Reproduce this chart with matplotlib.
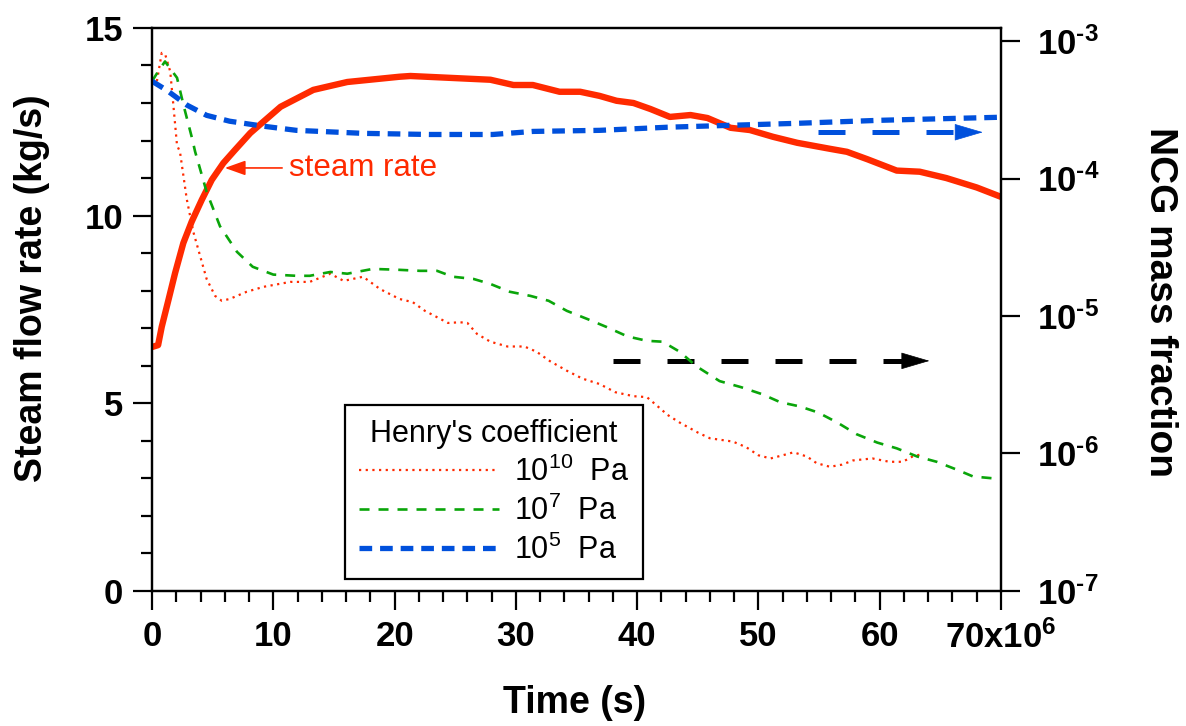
import numpy as np
import matplotlib
matplotlib.use("Agg")
import matplotlib.pyplot as plt
from matplotlib.ticker import MultipleLocator, NullLocator

plt.rcParams['font.family'] = ['Liberation Sans', 'DejaVu Sans']
plt.rcParams['mathtext.fontset'] = 'custom'
plt.rcParams['mathtext.rm'] = 'Liberation Sans'
plt.rcParams['mathtext.it'] = 'Liberation Sans:italic'
plt.rcParams['mathtext.bf'] = 'Liberation Sans:bold'

# time in units of 10^6 s
steam_t = [0, 0.5, 0.8, 1.35, 1.9, 2.58, 3.27, 4.1, 4.92, 5.88, 6.84, 8.1,
           10.6, 13.3, 16.1, 20.4, 21.3, 24.6, 27.9, 29.8, 31.4, 33.6, 35.3,
           36.9, 38.3, 39.7, 41.1, 42.7, 44.4, 45.8, 47.7, 49.3, 51.2, 53.2,
           55.9, 57.3, 59.0, 61.4, 63.3, 65.5, 68.0, 70]
steam_rate = [6.5, 6.55, 7.04, 7.75, 8.47, 9.27, 9.84, 10.42, 10.95, 11.4,
              11.75, 12.2, 12.9, 13.35, 13.56, 13.70, 13.72, 13.67, 13.62,
              13.48, 13.48, 13.30, 13.30, 13.19, 13.06, 13.0, 12.84, 12.63,
              12.68, 12.6, 12.34, 12.28, 12.1, 11.94, 11.78, 11.7, 11.5, 11.2,
              11.17, 11.0, 10.75, 10.5]

# NCG mass fraction, Henry's coefficient 1e10 Pa
h10_t = [0.4, 0.8, 1.1, 1.5, 1.76, 2.06, 2.3, 2.86, 3.4, 3.96, 4.5, 5.2, 5.75,
         6.4, 7.8, 9.2, 11.4, 13.0, 14.7, 15.8, 17.4, 18.8, 20.4, 21.5, 22.5,
         23.5, 24.4, 25.4, 26.0, 26.8, 27.9, 29.3, 30.7, 31.7, 32.8, 34.2,
         35.5, 36.9, 38.2, 39.7, 40.8, 41.6, 42.5, 43.5, 45.0, 46.0, 47.9,
         49.0, 50.0, 51.0, 52.0, 52.9, 54.0, 54.8, 55.9, 56.9, 57.8, 59.4,
         60.8, 61.9, 62.7, 63.3]
h10_frac = [5.1e-4, 8.2e-4, 7.9e-4, 6.0e-4, 3.4e-4, 1.74e-4, 1.57e-4, 7.1e-5,
            4.1e-5, 2.74e-5, 1.86e-5, 1.40e-5, 1.29e-5, 1.33e-5, 1.50e-5,
            1.63e-5, 1.77e-5, 1.77e-5, 2.03e-5, 1.80e-5, 1.93e-5, 1.57e-5,
            1.33e-5, 1.26e-5, 1.09e-5, 9.8e-6, 8.9e-6, 9.0e-6, 8.9e-6, 7.4e-6,
            6.5e-6, 6.0e-6, 6.0e-6, 5.5e-6, 4.7e-6, 4.0e-6, 3.5e-6, 3.2e-6,
            2.79e-6, 2.61e-6, 2.57e-6, 2.24e-6, 1.91e-6, 1.68e-6, 1.42e-6,
            1.29e-6, 1.22e-6, 1.11e-6, 9.7e-7, 9.2e-7, 9.7e-7, 1.02e-6, 9.5e-7,
            8.5e-7, 8.0e-7, 8.3e-7, 8.9e-7, 9.2e-7, 8.7e-7, 8.7e-7, 9.5e-7,
            9.8e-7]

# Henry's coefficient 1e7 Pa
h7_t = [0, 0.5, 1.07, 2.06, 2.6, 3.3, 3.55, 4.5, 5.6, 7.0, 8.3, 10.0, 11.9,
        13.0, 14.7, 16.1, 18.2, 20.2, 22.1, 23.5, 24.8, 26.5, 27.9, 29.5, 31.2,
        32.7, 34.2, 35.9, 37.5, 39.2, 40.8, 42.1, 43.5, 44.9, 46.8, 48.6, 50.3,
        51.8, 53.4, 54.9, 56.5, 58.1, 59.8, 61.4, 63.1, 64.7, 66.4, 67.7,
        69.3, 70]
h7_frac = [5.1e-4, 6.0e-4, 7.1e-4, 5.4e-4, 3.4e-4, 1.96e-4, 1.57e-4, 8.0e-5,
           4.5e-5, 2.93e-5, 2.28e-5, 2.0e-5, 1.96e-5, 1.96e-5, 2.09e-5,
           2.03e-5, 2.2e-5, 2.17e-5, 2.13e-5, 2.13e-5, 1.93e-5, 1.86e-5,
           1.71e-5, 1.50e-5, 1.40e-5, 1.29e-5, 1.09e-5, 9.5e-6, 8.3e-6, 7.1e-6,
           6.6e-6, 6.5e-6, 5.5e-6, 4.3e-6, 3.36e-6, 3.03e-6, 2.70e-6, 2.36e-6,
           2.20e-6, 1.99e-6, 1.68e-6, 1.38e-6, 1.20e-6, 1.09e-6, 9.5e-7, 8.7e-7,
           7.6e-7, 6.8e-7, 6.6e-7, 6.6e-7]

# Henry's coefficient 1e5 Pa
h5_t = [0, 1.2, 2.9, 4.5, 6.4, 9.2, 11.9, 17.4, 22.9, 28.1, 31.4, 36.9, 42.5,
        47.9, 53.2, 60.0, 65.0, 70]
h5_frac = [5.1e-4, 4.39e-4, 3.41e-4, 2.88e-4, 2.61e-4, 2.40e-4, 2.24e-4,
           2.13e-4, 2.09e-4, 2.09e-4, 2.20e-4, 2.24e-4, 2.36e-4, 2.44e-4,
           2.52e-4, 2.65e-4, 2.72e-4, 2.79e-4]

x_ticks = [0, 10, 20, 30, 40, 50, 60, 70]
x_labels = ['0', '10', '20', '30', '40', '50', '60', r'70x10$^{\mathbf{6}}$']
left_ticks = [0, 5, 10, 15]
right_ticks = [1e-7, 1e-6, 1e-5, 1e-4, 1e-3]
right_labels = ['$\\mathbf{10^{\u2010%d}}$' % k for k in (7, 6, 5, 4, 3)]

RED = '#ff2a00'
GREEN = '#0aa50a'
BLUE = '#0050dc'

fig = plt.figure(figsize=(11.86, 7.26), dpi=100)
ax = fig.add_axes([0.1282, 0.186, 0.7158, 0.7755])
ax2 = ax.twinx()

ax.plot(steam_t, steam_rate, color=RED, lw=4.6, solid_joinstyle='round')

l10, = ax2.plot(h10_t, h10_frac, color=RED, lw=1.6, dashes=(1, 2.0))
l7, = ax2.plot(h7_t, h7_frac, color=GREEN, lw=1.9, dashes=(3.8, 3.4))
l5, = ax2.plot(h5_t, h5_frac, color=BLUE, lw=3.8, dashes=(2.4, 1.5))


def dashed_arrow(axis, x0, x1, y, color, head=2.1):
    # dashed shaft plus a solid triangular head
    axis.plot([x0, x1 - head], [y, y], color=color, lw=3.6, dashes=(5.4, 5.4))
    axis.annotate('', xy=(x1, y), xytext=(x1 - head, y),
                  arrowprops=dict(arrowstyle='-|>,head_length=0.95,head_width=0.28',
                                  color=color, lw=0.5, shrinkA=0, shrinkB=0,
                                  mutation_scale=20))


dashed_arrow(ax, 38.0, 64.1, 6.13, 'black')
dashed_arrow(ax2, 54.9, 68.5, 2.17e-4, BLUE)

ax.annotate('steam rate', xy=(6.0, 11.27), xytext=(11.3, 11.27),
            color=RED, fontsize=22.5, va='center', ha='left',
            arrowprops=dict(arrowstyle='-|>,head_length=0.7,head_width=0.25',
                            color=RED, lw=1.2, shrinkA=3, shrinkB=0,
                            mutation_scale=18))

ax.set_xlim(0, 70)
ax.set_ylim(0, 15)
ax2.set_yscale('log')
ax2.set_ylim(1e-7, 10 ** -2.905)

ax.set_xticks(x_ticks, labels=x_labels, fontsize=25, fontweight='bold')
ax.set_yticks(left_ticks, labels=[str(v) for v in left_ticks], fontsize=25,
              fontweight='bold')
ax.xaxis.set_minor_locator(MultipleLocator(2))
ax.yaxis.set_minor_locator(MultipleLocator(1))
ax2.set_yticks(right_ticks, labels=right_labels, fontsize=25)
ax2.yaxis.set_minor_locator(NullLocator())

for a in (ax, ax2):
    a.tick_params(which='major', direction='out', length=14, width=1.6, pad=7)
    a.tick_params(which='minor', direction='out', length=8, width=1.6)
    for s in a.spines.values():
        s.set_linewidth(1.6)
ax2.tick_params(which='major', pad=12)

ax.set_xlabel('Time (s)', fontsize=27, fontweight='bold', va='center')
ax.xaxis.set_label_coords(0.498, -0.199)
ax.set_ylabel('Steam flow rate (kg/s)', fontsize=27, fontweight='bold', va='center')
ax.yaxis.set_label_coords(-0.141, 0.538)
ax2.set_ylabel('NCG mass fraction', fontsize=28, fontweight='bold', rotation=270,
               va='center')
ax2.yaxis.set_label_coords(1.187, 0.513)

leg = ax2.legend([l10, l7, l5],
                 [r'$10^{10}$  Pa', r'$10^{7}$  Pa', r'$10^{5}$  Pa'],
                 title="Henry's coefficient", fontsize=22, title_fontsize=22,
                 loc='upper left', bbox_to_anchor=(0.227, 0.330),
                 borderaxespad=0, handlelength=4.6, handletextpad=0.5,
                 labelspacing=0.25, borderpad=0.45,
                 frameon=True, fancybox=False, framealpha=1, edgecolor='black')
leg.get_frame().set_linewidth(1.6)

fig.savefig('out.png', dpi=100)
